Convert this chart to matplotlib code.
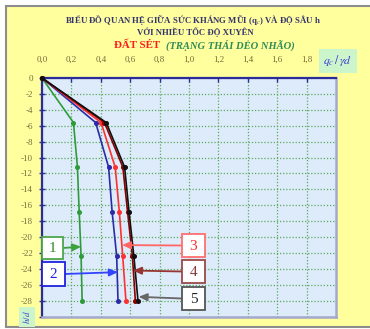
import matplotlib.pyplot as plt
import matplotlib.patches as mpatches

# depth h/d (negative downward) and qc/γd for the 5 penetration speeds
depth = [0, -5.6, -11.2, -16.8, -22.4, -28]
qc_1 = [0, 0.214, 0.241, 0.253, 0.266, 0.273]
qc_2 = [0, 0.365, 0.453, 0.477, 0.508, 0.517]
qc_3 = [0, 0.402, 0.498, 0.526, 0.549, 0.571]
qc_4 = [0, 0.425, 0.550, 0.582, 0.615, 0.635]
qc_5 = [0, 0.437, 0.562, 0.592, 0.625, 0.653]

series = [qc_1, qc_2, qc_3, qc_4, qc_5]
series_colors = ['#2E9B3A', '#2B2BA8', '#FF3030', '#8B0000', '#111111']

# callout labels and the points they point at
callout_labels = ['1', '2', '3', '4', '5']
callout_q = [0.266, 0.516, 0.544, 0.619, 0.657]
callout_h = [-21.2, -24.4, -21.0, -24.2, -27.5]

x_ticks = [0.0, 0.2, 0.4, 0.6, 0.8, 1.0, 1.2, 1.4, 1.6, 1.8]
y_ticks = [0, -2, -4, -6, -8, -10, -12, -14, -16, -18, -20, -22, -24, -26, -28]

W, H = 370, 329
plt.rcParams['font.family'] = ['Liberation Serif', 'DejaVu Serif']
plt.rcParams['mathtext.fontset'] = 'stix'


def px(x, y):
    return (x / W, 1 - y / H)


fig = plt.figure(figsize=(W / 100, H / 100), dpi=100, facecolor='white')

# yellow chart frame
fig.add_artist(mpatches.Rectangle(px(6, 327), (W + 10) / W, 321 / H,
                                  transform=fig.transFigure, facecolor='#FFFF9E',
                                  edgecolor='#8C8C8C', lw=1.5, zorder=-5))

ax = fig.add_axes([42 / W, 1 - 316.7 / H, (336 - 42) / W, (316.7 - 78) / H])
ax.set_facecolor('#DDEBFA')
ax.set_xlim(0, 2.0)
ax.set_ylim(-30, 0)

ax.grid(True, color='#5DAA5D', linestyle=(0, (1, 1.5)), lw=0.9)
ax.set_axisbelow(True)

for q, c in zip(series, series_colors):
    ax.plot(q, depth, color=c, lw=1.2, marker='o', ms=2.6, mfc=c, mec=c,
            clip_on=False, zorder=3)

ax.xaxis.tick_top()
ax.set_xticks(x_ticks)
ax.set_xticklabels([('%.1f' % v).replace('.', ',') for v in x_ticks])
ax.set_yticks(y_ticks + [-30])
ax.set_yticklabels([str(v) for v in y_ticks] + [''])
ax.tick_params(axis='x', direction='in', length=3, color='#2B2B99', width=1,
               pad=10, labelsize=6.5, labelcolor='#7A6A3A')
ax.tick_params(axis='y', direction='inout', length=5, color='#2B2B99', width=1,
               pad=4, labelsize=6.5, labelcolor='#7A6A3A')

for side in ['top', 'left']:
    ax.spines[side].set_color('#2B2B99')
    ax.spines[side].set_linewidth(1.6)
for side in ['right', 'bottom']:
    ax.spines[side].set_color('#A4A8CC')
    ax.spines[side].set_linewidth(1.8)

# titles
fig.text(*px(193, 20), 'BIỂU ĐỒ QUAN HỆ GIỮA SỨC KHÁNG MŨI (q$_c$) VÀ ĐỘ SÂU h',
         ha='center', va='center', fontsize=6.3, fontweight='bold', color='#33336E')
fig.text(*px(195, 32), 'VỚI NHIỀU TỐC ĐỘ XUYÊN',
         ha='center', va='center', fontsize=6.3, fontweight='bold', color='#33336E')
fig.text(*px(163, 45), 'ĐẤT SÉT ', ha='right', va='center', fontsize=7.8,
         fontweight='bold', color='#FF1A1A')
fig.text(*px(166, 45), '(TRẠNG THÁI DẺO NHÃO)', ha='left', va='center', fontsize=7.6,
         fontweight='bold', fontstyle='italic', color='#2E8B57')

# axis name boxes
fig.text(*px(338, 61), r'$q_c\,/\,\gamma d$', ha='center', va='center', fontsize=8.5,
         color='#3A3AD0',
         bbox=dict(boxstyle='square,pad=0.35', fc='#CCF5CC', ec='none'))
fig.text(*px(27, 317), r'$h/d$', ha='center', va='center', fontsize=6.5,
         color='#3A3AD0', rotation=90,
         bbox=dict(boxstyle='square,pad=0.3', fc='#CCF5CC', ec='none'))

# callout boxes: (left, top, right, bottom) in pixels
box_px = [(42, 237, 63, 259), (42, 262, 65, 286), (182, 234, 205, 257),
          (182, 260, 205, 283), (182, 287, 205, 310)]
box_edge = ['#4CA64C', '#2020E0', '#FF6F6F', '#9A4A4A', '#555555']
box_text = ['#2E8B2E', '#2020E0', '#FF2A2A', '#8B3A3A', '#222222']
arrow_col = ['#3FA03F', '#3344FF', '#FF6666', '#9A3333', '#666666']

for i, lab in enumerate(callout_labels):
    x0, y0, x1, y1 = box_px[i]
    fig.add_artist(mpatches.Rectangle(px(x0, y1), (x1 - x0) / W, (y1 - y0) / H,
                                      transform=fig.transFigure, fc='white',
                                      ec=box_edge[i], lw=1.3, zorder=5))
    fig.text(*px((x0 + x1) / 2, (y0 + y1) / 2 + 1), lab, ha='center', va='center',
             fontsize=11, color=box_text[i], zorder=6)
    start_x = x1 if i < 2 else x0
    ax.annotate('', xy=(callout_q[i], callout_h[i]), xycoords='data',
                xytext=px(start_x, (y0 + y1) / 2), textcoords='figure fraction',
                arrowprops=dict(arrowstyle='-|>,head_length=0.5,head_width=0.22',
                                color=arrow_col[i], lw=1.3, shrinkA=0, shrinkB=0),
                annotation_clip=False, zorder=4)

fig.savefig('out.png', dpi=100)
